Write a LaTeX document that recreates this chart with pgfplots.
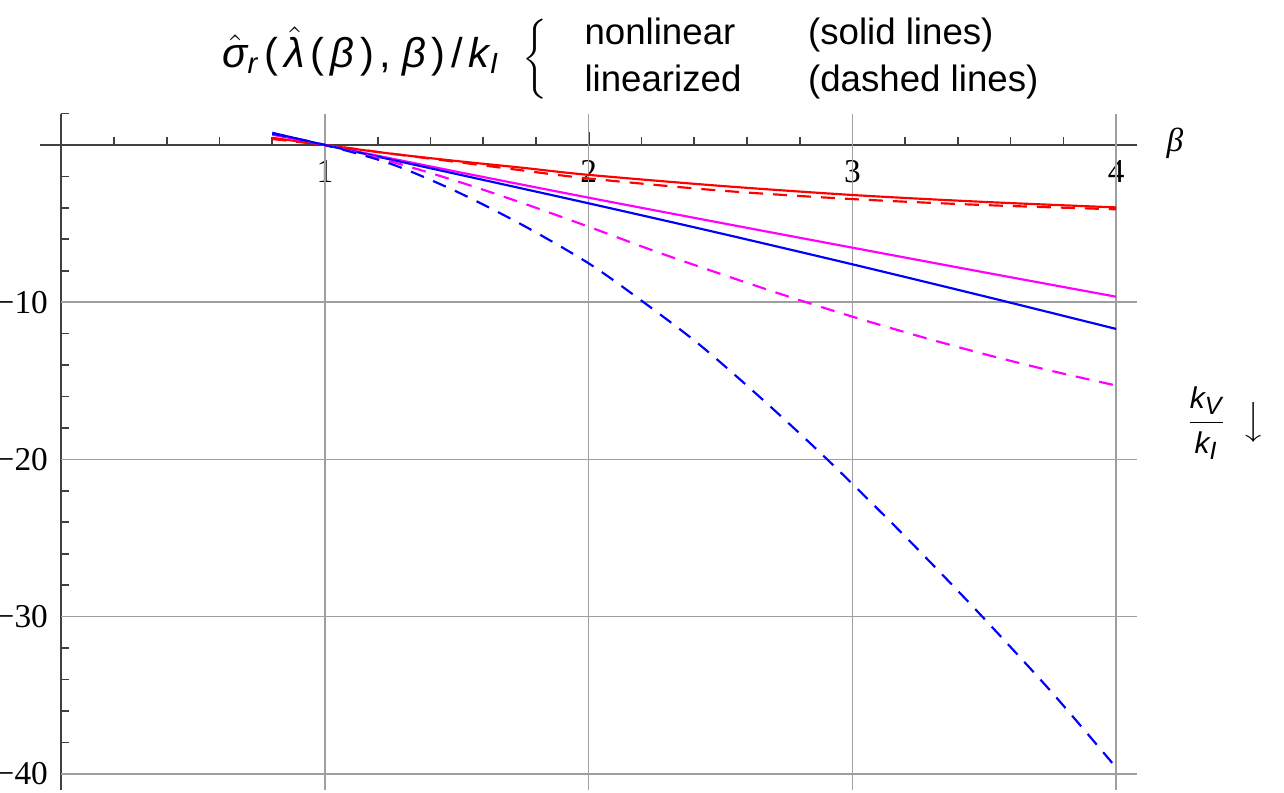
\documentclass[border=0pt]{standalone}
\usepackage{fontspec}
\usepackage{amsmath}
\usepackage{pgfplots}
\pgfplotsset{compat=1.18}
\setmainfont{Liberation Serif}
\newfontfamily\hv{Liberation Sans}
\newcommand{\si}[1]{\text{\hv\itshape #1}}
\newcommand{\sfk}[2]{\text{\fontsize{#1}{#1}\selectfont\hv\itshape #2}}
\newcommand{\g}{\mkern2.6mu}
\definecolor{mag}{RGB}{255,0,255}

\begin{document}
\begin{tikzpicture}
\begin{axis}[
    x=79.11pt, y=4.716pt,
    xmin=-0.08, xmax=4.08,
    ymin=-41, ymax=2,
    axis lines=middle,
    axis line style={black!75, line width=0.5pt, -},
    xtick={1,2,3,4},
    xticklabels={1,2,3,4},
    ytick={-40,-30,-20,-10},
    yticklabels={−40,−30,−20,−10},
    minor xtick={0.2,0.4,0.6,0.8,1.2,1.4,1.6,1.8,2.2,2.4,2.6,2.8,3.2,3.4,3.6,3.8},
    minor ytick={2,-2,-4,-6,-8,-12,-14,-16,-18,-22,-24,-26,-28,-32,-34,-36,-38},
    tick align=inside,
    major tick length=3.9pt,
    minor tick length=2.3pt,
    tick style={black!75, line width=0.5pt},
    tick label style={font=\fontsize{10}{12}\selectfont},
    xticklabel style={anchor=north, yshift=-1pt},
    yticklabel style={anchor=east, xshift=-0.5pt},
    clip=false,
]
% grid
\draw[gray!75, line width=0.45pt] (axis cs:1,-41) -- (axis cs:1,2);
\draw[gray!75, line width=0.45pt] (axis cs:2,-41) -- (axis cs:2,2);
\draw[gray!75, line width=0.45pt] (axis cs:3,-41) -- (axis cs:3,2);
\draw[gray!75, line width=0.45pt] (axis cs:4,-41) -- (axis cs:4,2);
\draw[gray!75, line width=0.45pt] (axis cs:0,-10) -- (axis cs:4.08,-10);
\draw[gray!75, line width=0.45pt] (axis cs:0,-20) -- (axis cs:4.08,-20);
\draw[gray!75, line width=0.45pt] (axis cs:0,-30) -- (axis cs:4.08,-30);
\draw[gray!75, line width=0.45pt] (axis cs:0,-40) -- (axis cs:4.08,-40);

% nonlinear (solid)
\addplot[red, line width=0.65pt, smooth] coordinates {
    (0.8,0.46) (1,0) (1.25,-0.55) (1.5,-1.02) (1.75,-1.45) (2,-1.9)
    (2.5,-2.6) (3,-3.18) (3.5,-3.62) (4,-3.97)};
\addplot[mag, line width=0.65pt, smooth] coordinates {
    (0.8,0.66) (1,0) (1.5,-1.7) (2,-3.35) (2.5,-4.95) (3,-6.53) (3.5,-8.1) (4,-9.65)};
\addplot[blue, line width=0.65pt, smooth] coordinates {
    (0.8,0.78) (1,0) (1.5,-1.85) (2,-3.71) (2.5,-5.62) (3,-7.59) (3.5,-9.62) (4,-11.7)};

% linearized (dashed)
\addplot[red, line width=0.65pt, smooth, dash pattern=on 4.2pt off 3pt] coordinates {
    (0.8,0.38) (1,0) (1.25,-0.55) (1.5,-1.08) (1.75,-1.62) (2,-2.13)
    (2.5,-2.9) (3,-3.44) (3.5,-3.82) (4,-4.09)};
\addplot[mag, line width=0.65pt, smooth, dash pattern=on 4.2pt off 3pt] coordinates {
    (0.8,0.68) (1,0) (1.25,-1.05) (1.5,-2.3) (1.75,-3.7) (2,-5.2) (2.25,-6.75)
    (2.5,-8.2) (2.75,-9.6) (3,-10.92) (3.25,-12.15) (3.5,-13.3) (3.75,-14.35) (4,-15.3)};
\addplot[blue, line width=0.65pt, smooth, dash pattern=on 4.2pt off 3pt] coordinates {
    (0.8,0.72) (1,0) (1.25,-1.2) (1.5,-2.97) (1.75,-5.1) (2,-7.53) (2.2,-9.9)
    (2.42,-12.7) (2.66,-16.2) (2.907,-20.04) (3.2,-24.9) (3.47,-29.6) (3.75,-34.7) (4,-39.6)};

% labels
\node[anchor=center, font=\fontsize{10}{12}\selectfont] at (axis cs:4.223,0.1) {\textit{β}};
\node[anchor=west, inner sep=0pt, font=\fontsize{10}{12}\selectfont] at (axis cs:4.262,-17.7)
    {$\dfrac{\sfk{9}{k}_{\sfk{7.5}{V}}}{\sfk{9}{k}_{\sfk{7.5}{I}}}\mkern8mu\big\downarrow$};
\node[anchor=west, inner sep=0pt, font=\fontsize{11}{14}\selectfont] at (axis cs:0.609,5.5)
    {{\fontsize{12.5}{14}\selectfont$\hat{\si{σ}}_{\si{r}}\g\text{\hv(}\g\hat{\si{λ}}\g\text{\hv(}\g\si{β}\g\text{\hv)}\g\text{\hv,}\mkern5mu\si{β}\g\text{\hv)}\g\text{\hv/}\g\si{k}_{\si{I}}$}%
     \hspace{7pt}{\fontsize{9.6}{12}\selectfont$\biggl\{$}\hspace{11pt}%
     {\hv\begin{tabular}{@{}l@{\hspace{20pt}}l@{}}
       nonlinear & (solid lines)\\
       linearized & (dashed lines)
     \end{tabular}}};

\coordinate (bl) at (axis cs:-0.2325,-41.158);
\coordinate (tr) at (axis cs:4.6367,9.224);
\end{axis}
\pgfresetboundingbox
\path[use as bounding box] (bl) rectangle (tr);
\end{tikzpicture}
\end{document}
